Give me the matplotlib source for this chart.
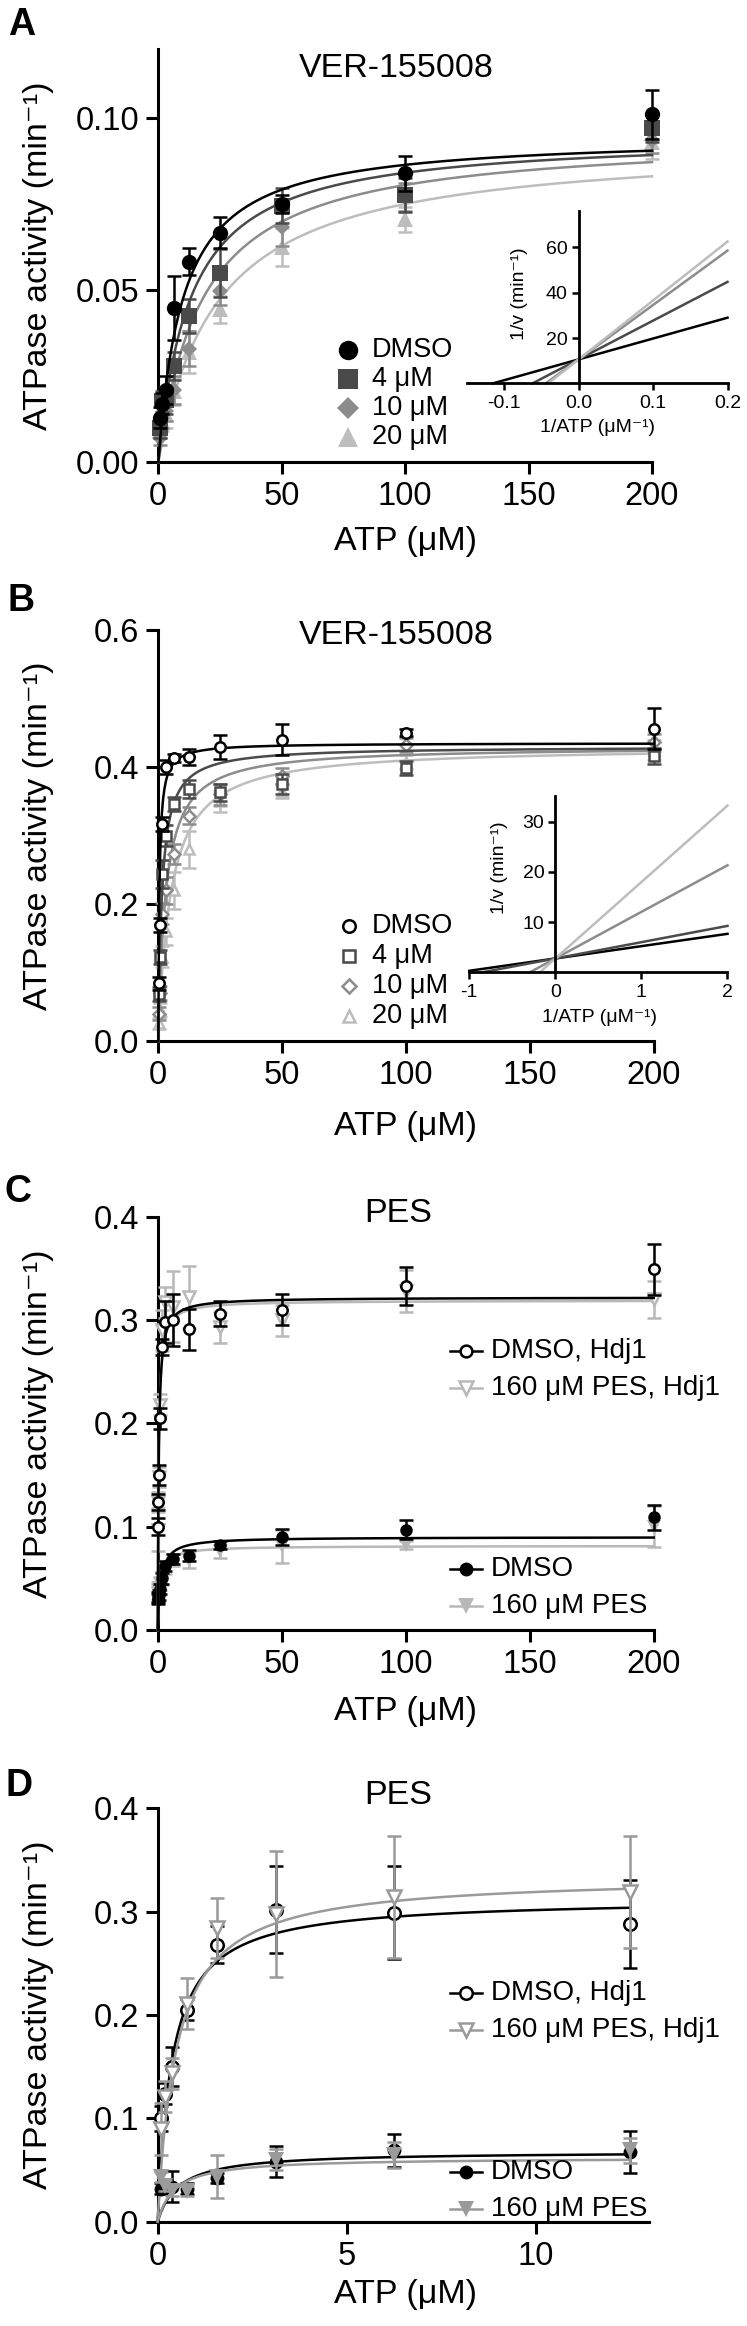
import numpy as np
import matplotlib
matplotlib.use('Agg')
import matplotlib.pyplot as plt
from matplotlib.lines import Line2D

plt.rcParams['font.family'] = ['Liberation Sans', 'DejaVu Sans']
plt.rcParams['axes.unicode_minus'] = False

# ---------------- data ----------------
# Panel A  (VER-155008, without co-chaperone)
a_x = [0.78, 1.56, 3.125, 6.25, 12.5, 25, 50, 100, 200]
a_dmso = [0.013, 0.017, 0.021, 0.0449, 0.0583, 0.0666, 0.075, 0.0839, 0.101]
a_dmso_err = [0.003, 0.003, 0.004, 0.0093, 0.004, 0.0045, 0.0027, 0.005, 0.007]
a_4 = [0.010, 0.0177, 0.018, 0.028, 0.0425, 0.055, 0.0745, 0.0776, 0.097]
a_4_err = [0.003, 0.003, 0.004, 0.004, 0.005, 0.007, 0.005, 0.005, 0.004]
a_10 = [0.007, 0.013, 0.015, 0.021, 0.033, 0.0498, 0.0682, 0.077, 0.0937]
a_10_err = [0.002, 0.003, 0.003, 0.004, 0.005, 0.004, 0.0055, 0.004, 0.004]
a_20 = [0.010, 0.012, 0.014, 0.0206, 0.032, 0.0444, 0.0624, 0.0705, 0.093]
a_20_err = [0.003, 0.003, 0.004, 0.004, 0.006, 0.004, 0.0055, 0.0035, 0.005]
a_vmax = [0.095, 0.095, 0.095, 0.093]
a_km = [10, 13, 18, 24]
a_lb_intercept = 10.6
a_lb_slope = [92, 171, 240, 260]

# Panel B  (VER-155008, with Hdj1)
b_x = [0.39, 0.78, 1.56, 3.125, 6.25, 12.5, 25, 50, 100, 200]
b_dmso = [0.084, 0.169, 0.317, 0.40, 0.4136, 0.4145, 0.429, 0.44, 0.45, 0.456]
b_dmso_err = [0.01, 0.01, 0.01, 0.01, 0.006, 0.012, 0.018, 0.023, 0.005, 0.03]
b_4 = [0.069, 0.123, 0.244, 0.30, 0.346, 0.3675, 0.363, 0.375, 0.399, 0.416]
b_4_err = [0.01, 0.01, 0.02, 0.015, 0.01, 0.013, 0.012, 0.015, 0.01, 0.012]
b_10 = [0.04, 0.07, 0.186, 0.22, 0.273, 0.329, 0.36, 0.387, 0.432, 0.436]
b_10_err = [0.01, 0.01, 0.015, 0.02, 0.015, 0.012, 0.015, 0.012, 0.01, 0.012]
b_20 = [0.026, 0.045, 0.123, 0.16, 0.22, 0.28, 0.35, 0.365, 0.407, 0.425]
b_20_err = [0.008, 0.01, 0.015, 0.02, 0.027, 0.027, 0.015, 0.01, 0.01, 0.015]
b_vmax = [0.435, 0.43, 0.43, 0.43]
b_km = [0.45, 1.5, 3.0, 5.0]
b_lb_intercept = 2.77
b_lb_slope = [2.45, 3.24, 9.27, 15.2]

series_labels = ['DMSO', '4 μM', '10 μM', '20 μM']

# Panel C  (PES, 0-200 uM)
c_x = [0.098, 0.195, 0.39, 0.78, 1.56, 3.125, 6.25, 12.5, 25, 50, 100, 200]
c_dmso_hdj = [0.10, 0.124, 0.15, 0.205, 0.274, 0.298, 0.30, 0.291, 0.306, 0.31, 0.333, 0.349]
c_dmso_hdj_err = [0.008, 0.008, 0.01, 0.01, 0.008, 0.02, 0.025, 0.02, 0.012, 0.015, 0.018, 0.025]
c_pes_hdj = [0.097, 0.124, 0.148, 0.218, 0.29, 0.317, 0.313, 0.322, 0.293, 0.30, 0.328, 0.32]
c_pes_hdj_err = [0.021, 0.01, 0.01, 0.01, 0.02, 0.015, 0.034, 0.03, 0.015, 0.015, 0.02, 0.018]
c_dmso = [0.03, 0.032, 0.034, 0.04, 0.05, 0.062, 0.069, 0.072, 0.082, 0.09, 0.097, 0.109]
c_dmso_err = [0.005, 0.005, 0.005, 0.005, 0.005, 0.005, 0.005, 0.005, 0.004, 0.008, 0.009, 0.012]
c_pes = [0.035, 0.038, 0.04, 0.045, 0.05, 0.06, 0.068, 0.068, 0.076, 0.081, 0.082, 0.10]
c_pes_err = [0.008, 0.008, 0.006, 0.006, 0.006, 0.006, 0.006, 0.008, 0.006, 0.016, 0.004, 0.02]
c_vmax = [0.322, 0.319, 0.09, 0.0815]
c_km = [0.4, 0.38, 1.2, 1.0]

# Panel D  (PES, 0-12.5 uM)
d_x = [0.098, 0.195, 0.39, 0.78, 1.56, 3.125, 6.25, 12.5]
d_dmso_hdj = [0.10, 0.124, 0.15, 0.205, 0.268, 0.302, 0.299, 0.288]
d_dmso_hdj_err = [0.012, 0.01, 0.019, 0.01, 0.018, 0.042, 0.045, 0.043]
d_pes_hdj = [0.09, 0.121, 0.1435, 0.211, 0.284, 0.298, 0.3145, 0.319]
d_pes_hdj_err = [0.025, 0.015, 0.015, 0.025, 0.029, 0.061, 0.059, 0.054]
d_dmso = [0.032, 0.034, 0.034, 0.032, 0.042, 0.058, 0.069, 0.0674]
d_dmso_err = [0.005, 0.005, 0.015, 0.005, 0.005, 0.015, 0.016, 0.02]
d_pes = [0.0435, 0.035, 0.03, 0.03, 0.0435, 0.06, 0.0645, 0.069]
d_pes_err = [0.005, 0.005, 0.005, 0.005, 0.021, 0.01, 0.013, 0.012]
d_vmax = [0.313, 0.335, 0.068, 0.062]
d_km = [0.38, 0.5, 0.55, 0.45]

pes_labels = ['DMSO, Hdj1', '160 μM PES, Hdj1', 'DMSO', '160 μM PES']

# ---------------- styles ----------------
W, H, DPI = 747, 2326, 100
fig = plt.figure(figsize=(W / DPI, H / DPI), dpi=DPI)

AB_COLORS = ['#000000', '#4a4a4a', '#8c8c8c', '#bdbdbd']
AB_MARKERS = ['o', 's', 'D', '^']
C_GRAY = '#b8b8b8'
D_GRAY = '#9a9a9a'
LW = 1.8
FS_TICK = 23.5
FS_LAB = 24.5
YLABEL = 'ATPase activity (min\u207b\u00b9)'


def fx(px):
    return px / W


def fy(py):
    return 1 - py / H


def rect(left, top, right, bottom):
    return [left / W, 1 - bottom / H, (right - left) / W, (bottom - top) / H]


def style_main(ax, xlim, ylim, xticks, yticks, yfmt):
    ax.set_xlim(*xlim)
    ax.set_ylim(*ylim)
    ax.patch.set_alpha(0)
    for s in ['top', 'right']:
        ax.spines[s].set_visible(False)
    for s in ['left', 'bottom']:
        ax.spines[s].set_linewidth(2.2)
    ax.set_xticks(xticks)
    ax.set_xticklabels([str(t) for t in xticks])
    ax.set_yticks(yticks)
    ax.set_yticklabels([yfmt.format(v) for v in yticks])
    ax.tick_params(length=8.6, width=2.2, labelsize=FS_TICK, pad=5)


def series(ax, x, y, e, color, marker, ms, filled, xmax, V, K, z, mew=1.8):
    xs = np.linspace(0, xmax, 800)
    ax.plot(xs, V * xs / (K + xs), color=color, lw=LW, zorder=z, clip_on=False)
    eb = ax.errorbar(x, y, yerr=e, fmt='none', ecolor=color, elinewidth=LW,
                     capsize=4.7, capthick=LW, zorder=z + 0.1)
    for art in eb.lines[1] + eb.lines[2]:
        art.set_clip_on(False)
    ax.plot(x, y, ls='none', marker=marker, ms=ms,
            mfc=color if filled else 'white', mec=color,
            mew=0 if filled else mew, zorder=z + 0.2, clip_on=False)


def legend_entry(xm, y, xt, marker, ms, color, filled, label, fs, half=None, mew=1.8):
    if half:
        fig.add_artist(Line2D([fx(xm - half), fx(xm + half)], [fy(y), fy(y)],
                              color=color, lw=LW, transform=fig.transFigure))
    fig.add_artist(Line2D([fx(xm)], [fy(y)], ls='none', marker=marker, ms=ms,
                          mfc=color if filled else 'white', mec=color,
                          mew=0 if filled else mew, transform=fig.transFigure))
    fig.text(fx(xt), fy(y), label, fontsize=fs, va='center', ha='left')


def inset(r, xlim, ylim, xticks, xtl, yticks, ytl, slopes, intercept, colors,
          ylab_xy, xlab_xy):
    ia = fig.add_axes(r)
    ia.set_xlim(*xlim)
    ia.set_ylim(*ylim)
    ia.patch.set_alpha(0)
    ia.spines['left'].set_position(('data', 0))
    ia.spines['bottom'].set_position(('data', 0))
    for s in ['top', 'right']:
        ia.spines[s].set_visible(False)
    for s in ['left', 'bottom']:
        ia.spines[s].set_linewidth(2.0)
    for slope, c in zip(slopes, colors):
        x0 = max(-intercept / slope, xlim[0])
        xs = np.array([x0, xlim[1]])
        ia.plot(xs, intercept + slope * xs, color=c, lw=LW, clip_on=False)
    ia.set_xticks(xticks)
    ia.set_xticklabels(xtl)
    ia.set_yticks(yticks)
    ia.set_yticklabels(ytl)
    ia.tick_params(length=5, width=1.8, labelsize=14, pad=3)
    fig.text(fx(ylab_xy[0]), fy(ylab_xy[1]), '1/v (min\u207b\u00b9)', fontsize=14,
             rotation=90, ha='center', va='center')
    fig.text(fx(xlab_xy[0]), fy(xlab_xy[1]), '1/ATP (μM\u207b\u00b9)', fontsize=14,
             ha='center', va='center')
    return ia


def labels(letter, letter_xy, title, title_xy, yl_y, xl_y):
    fig.text(fx(letter_xy[0]), fy(letter_xy[1]), letter, fontsize=27,
             fontweight='bold', ha='center', va='center')
    fig.text(fx(title_xy[0]), fy(title_xy[1]), title, fontsize=FS_LAB,
             ha='center', va='center')
    fig.text(fx(39), fy(yl_y), YLABEL, fontsize=FS_LAB,
             rotation=90, ha='center', va='center')
    fig.text(fx(405), fy(xl_y), 'ATP (μM)', fontsize=FS_LAB,
             ha='center', va='center')


# ---------------- Panel A ----------------
axA = fig.add_axes(rect(158.3, 49, 652, 462.3))
style_main(axA, (0, 200), (0, 0.12), [0, 50, 100, 150, 200], [0, 0.05, 0.10], '{:.2f}')
a_sets = [(a_dmso, a_dmso_err), (a_4, a_4_err), (a_10, a_10_err), (a_20, a_20_err)]
for i in range(3, -1, -1):
    y, e = a_sets[i]
    series(axA, a_x, y, e, AB_COLORS[i], AB_MARKERS[i],
           11 if AB_MARKERS[i] != 'D' else 8.5, True, 200, a_vmax[i], a_km[i], z=10 - i)
labels('A', (21.4, 25.3), 'VER-155008', (396.4, 68.9), 255.6, 541.8)
for i, lab in enumerate(series_labels):
    legend_entry(347.8, 349.9 + 29.1 * i, 371.6, AB_MARKERS[i],
                 14 if AB_MARKERS[i] != 'D' else 11, AB_COLORS[i], True, lab, 19.5)
inset(rect(466.9, 211.2, 727.5, 383.4), (-0.15, 0.2), (0, 76),
      [-0.1, 0.0, 0.1, 0.2], ['-0.1', '0.0', '0.1', '0.2'],
      [20, 40, 60], ['20', '40', '60'],
      a_lb_slope, a_lb_intercept, AB_COLORS, (520, 294), (598, 427))

# ---------------- Panel B ----------------
axB = fig.add_axes(rect(158.3, 630, 654, 1041))
style_main(axB, (0, 200), (0, 0.6), [0, 50, 100, 150, 200], [0, 0.2, 0.4, 0.6], '{:.1f}')
b_sets = [(b_dmso, b_dmso_err), (b_4, b_4_err), (b_10, b_10_err), (b_20, b_20_err)]
for i in range(3, -1, -1):
    y, e = b_sets[i]
    series(axB, b_x, y, e, AB_COLORS[i], AB_MARKERS[i],
           7.5 if AB_MARKERS[i] != 'D' else 6, False, 200, b_vmax[i], b_km[i], z=10 - i)
labels('B', (21.4, 601.5), 'VER-155008', (396.4, 636), 835.5, 1126.6)
for i, lab in enumerate(series_labels):
    legend_entry(349, 925.7 + 30.1 * i, 371.6, AB_MARKERS[i],
                 9 if AB_MARKERS[i] != 'D' else 7.5, AB_COLORS[i], False, lab, 19.5)
inset(rect(469.3, 796.4, 727.5, 972.4), (-1, 2), (0, 35),
      [-1, 0, 1, 2], ['-1', '0', '1', '2'],
      [10, 20, 30], ['10', '20', '30'],
      b_lb_slope, b_lb_intercept, AB_COLORS, (499, 867.6), (600, 1017.8))

# ---------------- Panel C ----------------
axC = fig.add_axes(rect(157.7, 1216.7, 653.7, 1630))
style_main(axC, (0, 200), (0, 0.4), [0, 50, 100, 150, 200], [0, 0.1, 0.2, 0.3, 0.4], '{:.1f}')
c_sets = [(c_dmso_hdj, c_dmso_hdj_err, '#000000', 'o', 7.5, False),
          (c_pes_hdj, c_pes_hdj_err, C_GRAY, 'v', 9, False),
          (c_dmso, c_dmso_err, '#000000', 'o', 9, True),
          (c_pes, c_pes_err, C_GRAY, 'v', 10, True)]
for i in [1, 0, 3, 2]:
    y, e, col, mk, ms, fill = c_sets[i]
    series(axC, c_x, y, e, col, mk, ms, fill, 200, c_vmax[i], c_km[i], z=10 - i)
labels('C', (18, 1191.8), 'PES', (397.8, 1213.6), 1423.3, 1711.4)
for i, yy in enumerate([1350.7, 1388.2, 1568.6, 1606]):
    _, _, col, mk, ms, fill = c_sets[i]
    legend_entry(466, yy, 490.7, mk, ms + 1, col, fill, pes_labels[i], 20, half=15.5)

# ---------------- Panel D ----------------
axD = fig.add_axes(rect(157.7, 1808.3, 649, 2221.7))
style_main(axD, (0, 13), (0, 0.4), [0, 5, 10], [0, 0.1, 0.2, 0.3, 0.4], '{:.1f}')
d_sets = [(d_dmso_hdj, d_dmso_hdj_err, '#000000', 'o', 9, False),
          (d_pes_hdj, d_pes_hdj_err, D_GRAY, 'v', 10, False),
          (d_dmso, d_dmso_err, '#000000', 'o', 10, True),
          (d_pes, d_pes_err, D_GRAY, 'v', 11, True)]
for i in [0, 1, 2, 3]:
    y, e, col, mk, ms, fill = d_sets[i]
    series(axD, d_x, y, e, col, mk, ms, fill, 12.5, d_vmax[i], d_km[i], z=10 + i)
labels('D', (19, 1786), 'PES', (397.8, 1795.7), 2015, 2295)
for i, yy in enumerate([1993, 2030, 2171.7, 2209]):
    _, _, col, mk, ms, fill = d_sets[i]
    legend_entry(466, yy, 490.7, mk, ms, col, fill, pes_labels[i], 20, half=15.5)

fig.savefig('out.png', dpi=DPI)
